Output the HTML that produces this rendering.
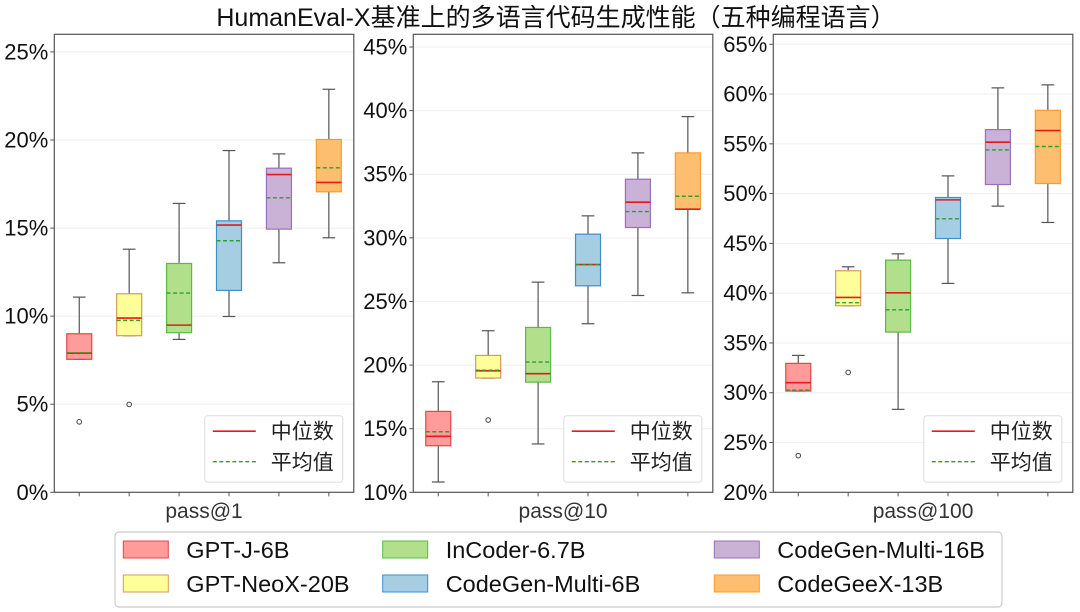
<!DOCTYPE html>
<html><head><meta charset="utf-8">
<style>
html,body{margin:0;padding:0;background:#fff;}
svg{display:block;font-family:"Liberation Sans","Noto Sans CJK SC",sans-serif;}
</style></head>
<body>
<svg id="chart" width="1080" height="612" viewBox="0 0 1080 612">
<text x="556" y="26" font-size="25" text-anchor="middle" fill="#111">HumanEval-X基准上的多语言代码生成性能（五种编程语言）</text>
<g id="panels"></g>
<g>
<rect x="115" y="532" width="887" height="75" rx="4" fill="#fff" stroke="#ccc" stroke-width="1.2"/>
</g>
<g id="leg"></g>
</svg>
<script>
const models = ["GPT-J-6B","GPT-NeoX-20B","InCoder-6.7B","CodeGen-Multi-6B","CodeGen-Multi-16B","CodeGeeX-13B"];
const panelLabels = ["pass@1","pass@10","pass@100"];
const yMin = [0,10,20];
const yMax = [26,46,66];
const yTicks = [[0,5,10,15,20,25],[10,15,20,25,30,35,40,45],[20,25,30,35,40,45,50,55,60,65]];
// per panel, per model: [lowWhisker, Q1, median, Q3, highWhisker]
const stats1 = [[7.55,7.55,7.9,9.0,11.08],[8.89,8.89,9.89,11.27,13.8],[8.68,9.06,9.49,12.99,16.4],[9.98,11.46,15.17,15.41,19.4],[13.03,14.94,18.04,18.4,19.21],[14.45,17.06,17.59,20.03,22.88]];
const stats10 = [[10.81,13.66,14.4,16.36,18.69],[18.98,18.98,19.55,20.76,22.7],[13.8,18.66,19.32,22.96,26.52],[23.25,26.23,27.9,30.29,31.73],[25.47,30.81,32.8,34.61,36.68],[25.68,32.25,32.25,36.68,39.53]];
const stats100 = [[30.17,30.17,31.01,32.95,33.75],[38.74,38.74,39.57,42.25,42.65],[28.33,36.09,40.04,43.32,43.95],[40.98,45.49,49.37,49.61,51.78],[48.74,50.91,55.16,56.43,60.62],[47.1,51.01,56.33,58.37,60.92]];
const means1 = [7.92,9.76,11.31,14.28,16.72,18.42];
const means10 = [14.76,19.6,20.24,27.88,32.07,33.27];
const means100 = [30.27,39.04,38.33,47.47,54.39,54.73];
const outliers1 = [[4.0],[4.99],[],[],[],[]];
const outliers10 = [[],[15.68],[],[],[],[]];
const outliers100 = [[23.68],[32.04],[],[],[],[]];

const fills = ["#ff9b9b","#ffff99","#b2df8a","#a6cee3","#cab2d6","#fdbf6f"];
const edges = ["#e0474a","#d49a5a","#5cb947","#3f8ec8","#9a70b8","#ff9a2a"];
const NS="http://www.w3.org/2000/svg";
function mk(tag,attrs,parent){const e=document.createElementNS(NS,tag);for(const k in attrs)e.setAttribute(k,attrs[k]);parent.appendChild(e);return e;}

const allStats=[stats1,stats10,stats100], allMeans=[means1,means10,means100], allOuts=[outliers1,outliers10,outliers100];
const lefts=[54.3,413.3,773.3], plotW=299.5, plotTop=34.3, plotBot=492.3;
const panelsG=document.getElementById('panels');
for(let p=0;p<3;p++){
  const g=mk('g',{},panelsG);
  
  
  const L=lefts[p];
  const y=v=>plotBot-(v-yMin[p])/(yMax[p]-yMin[p])*(plotBot-plotTop);
  const x=i=>L+plotW*(i+0.5)/6;
  mk('rect',{x:L,y:plotTop,width:plotW,height:plotBot-plotTop,fill:'#fff'},g);
  yTicks[p].forEach(t=>{
    const yy=y(t);
    const gl=mk('line',{x1:L,x2:L+plotW,y1:yy,y2:yy,stroke:'#efefef','stroke-width':1},g);
    
    
    mk('line',{x1:L-4,x2:L,y1:yy,y2:yy,stroke:'#555','stroke-width':1},g);
    const tx=mk('text',{x:L-6,y:yy+7.5,'font-size':22,'text-anchor':'end',fill:'#111'},g);
    tx.textContent=t+'%';
    
    
  });
  for(let i=0;i<6;i++){
    mk('line',{x1:x(i),x2:x(i),y1:plotBot,y2:plotBot+4,stroke:'#555','stroke-width':1},g);
    const s=allStats[p][i], cx=x(i), bw=25, cw=12.7;
    const bg=mk('g',{},g);
    
    
    mk('line',{x1:cx,x2:cx,y1:y(s[0]),y2:y(s[1]),stroke:'#555','stroke-width':1.2},bg);
    mk('line',{x1:cx,x2:cx,y1:y(s[3]),y2:y(s[4]),stroke:'#555','stroke-width':1.2},bg);
    mk('line',{x1:cx-cw/2,x2:cx+cw/2,y1:y(s[0]),y2:y(s[0]),stroke:'#555','stroke-width':1.2},bg);
    mk('line',{x1:cx-cw/2,x2:cx+cw/2,y1:y(s[4]),y2:y(s[4]),stroke:'#555','stroke-width':1.2},bg);
    mk('rect',{x:cx-bw/2,y:y(s[3]),width:bw,height:Math.max(y(s[1])-y(s[3]),0.5),fill:fills[i],stroke:edges[i],'stroke-width':1.2},bg);
    mk('line',{x1:cx-bw/2,x2:cx+bw/2,y1:y(s[2]),y2:y(s[2]),stroke:'#e41a1c','stroke-width':1.6},bg);
    mk('line',{x1:cx-bw/2,x2:cx+bw/2,y1:y(allMeans[p][i]),y2:y(allMeans[p][i]),stroke:'#2ca02c','stroke-width':1.4,'stroke-dasharray':'4,2.5'},bg);
    allOuts[p][i].forEach(o=>{
      const c=mk('circle',{cx:cx,cy:y(o),r:2.3,fill:'none',stroke:'#444','stroke-width':1},bg);
      
      
    });
  }
  mk('rect',{x:L,y:plotTop,width:plotW,height:plotBot-plotTop,fill:'none',stroke:'#555','stroke-width':1.2},g);
  const xl=mk('text',{x:L+plotW/2,y:518,'font-size':21,'text-anchor':'middle',fill:'#333'},g);
  xl.textContent=panelLabels[p];
  
  
  const lg=mk('g',{},g);
  
  
  const lx=L+plotW-149, ly=415.7;
  mk('rect',{x:lx,y:ly,width:138,height:66.6,rx:3,fill:'#fff',stroke:'#ddd','stroke-width':1},lg);
  mk('line',{x1:lx+8,x2:lx+51,y1:ly+15.5,y2:ly+15.5,stroke:'#e41a1c','stroke-width':1.6},lg);
  mk('line',{x1:lx+8,x2:lx+51,y1:ly+46,y2:ly+46,stroke:'#2ca02c','stroke-width':1.4,'stroke-dasharray':'4,2.5'},lg);
  const t1=mk('text',{x:lx+66,y:ly+23,'font-size':21,fill:'#222'},lg); t1.textContent='中位数';
  const t2=mk('text',{x:lx+66,y:ly+54,'font-size':21,fill:'#222'},lg); t2.textContent='平均值';
}
const legG=document.getElementById('leg');
const colX=[123.3,382.7,714.3], rowY=[541,575];
for(let i=0;i<6;i++){
  const c=Math.floor(i/2), r=i%2;
  const e=mk('g',{},legG);
  
  
  mk('rect',{x:colX[c],y:rowY[r],width:45,height:17,fill:fills[i],stroke:edges[i],'stroke-width':1},e);
  const t=mk('text',{x:colX[c]+63,y:rowY[r]+17,'font-size':23.5,fill:'#111'},e);
  t.textContent=models[i];
}
</script>
</body></html>
